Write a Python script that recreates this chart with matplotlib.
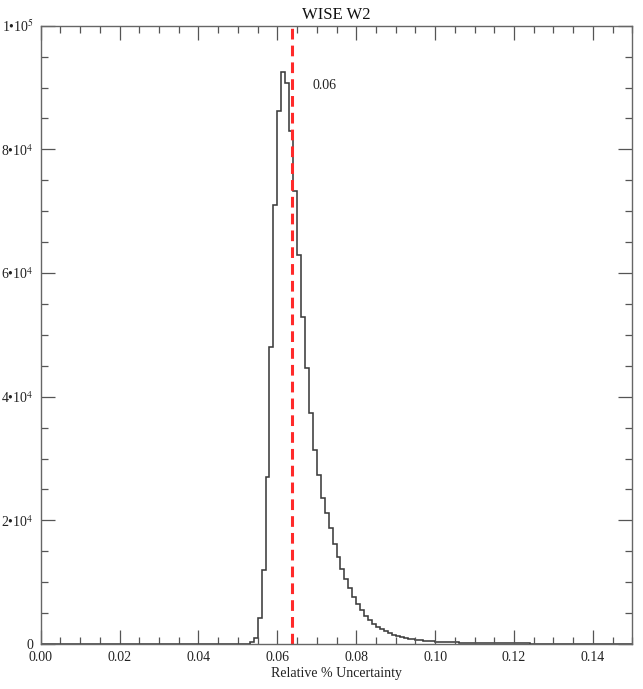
import numpy as np
import matplotlib
matplotlib.use('Agg')
import matplotlib.pyplot as plt
from matplotlib.ticker import MultipleLocator

plt.rcParams['font.family'] = ['Liberation Serif', 'DejaVu Serif']
plt.rcParams['mathtext.fontset'] = 'stix'

# histogram of relative uncertainty, bins of 0.001 starting at 0.053
bin_start = 0.053
bin_width = 0.001
counts = [300, 1000, 4200, 12000, 27000, 48000, 71000, 86200, 92500, 90700,
          82900, 73200, 62900, 52900, 44600, 37300, 31400, 27300, 23600, 21200,
          18800, 16200, 14000, 12200, 10500, 9000, 7600, 6500, 5500, 4600,
          3900, 3300, 2800, 2400, 2050, 1750, 1500, 1300, 1120, 970,
          850, 750, 660, 580, 520, 470, 420, 380,
          350, 320, 300, 280, 260, 240, 230, 210, 200, 190,
          180, 170, 160, 150, 140, 130, 125, 120, 110, 100,
          95, 90, 85, 80, 78, 75, 70, 68, 65, 62,
          60, 58, 55, 52, 50, 48, 46, 44, 42, 40,
          38, 36, 35, 34, 32, 30, 29, 28, 27]
edges = bin_start + bin_width * np.arange(len(counts) + 1)

median_val = 0.0638
median_label = '0.06'

x_ticks = [0.00, 0.02, 0.04, 0.06, 0.08, 0.10, 0.12, 0.14]
y_ticks = [0, 20000, 40000, 60000, 80000, 100000]
y_ticklabels = ['0', '2•10$^4$', '4•10$^4$', '6•10$^4$', '8•10$^4$', '1•10$^5$']

fig = plt.figure(figsize=(6.43, 6.89), dpi=100)
ax = fig.add_axes([0.0633, 0.0653, 0.9201, 0.8974])

ax.stairs(counts, edges, color='#3c3c3c', linewidth=1.15, baseline=0)
ax.plot([0, bin_start], [0, 0], color='#3c3c3c', linewidth=1.15)
ax.axvline(median_val, color='#ff2a2a', linewidth=2.2, linestyle=(0, (3.5, 2.0)))
ax.text(0.0689, 90400, median_label, fontsize=10, va='center', ha='left', color='#222222')

ax.set_xlim(0, 0.15)
ax.set_ylim(0, 100000)
ax.set_xticks(x_ticks)
ax.set_xticklabels(['%.2f' % t for t in x_ticks])
ax.set_yticks(y_ticks)
ax.set_yticklabels(y_ticklabels)
ax.xaxis.set_minor_locator(MultipleLocator(0.005))
ax.yaxis.set_minor_locator(MultipleLocator(5000))

ax.tick_params(which='both', direction='in', top=True, right=True,
               color='#555555', width=0.9, labelsize=10, labelcolor='#222222')
ax.tick_params(which='major', length=10, pad=5)
ax.tick_params(which='minor', length=5)
for s in ax.spines.values():
    s.set_color('#666666')
    s.set_linewidth(1.0)

ax.set_title('WISE W2', fontsize=12, pad=5, color='#111111')
ax.set_xlabel('Relative % Uncertainty', fontsize=10, labelpad=2, color='#222222')

fig.savefig('out.png', dpi=100)
